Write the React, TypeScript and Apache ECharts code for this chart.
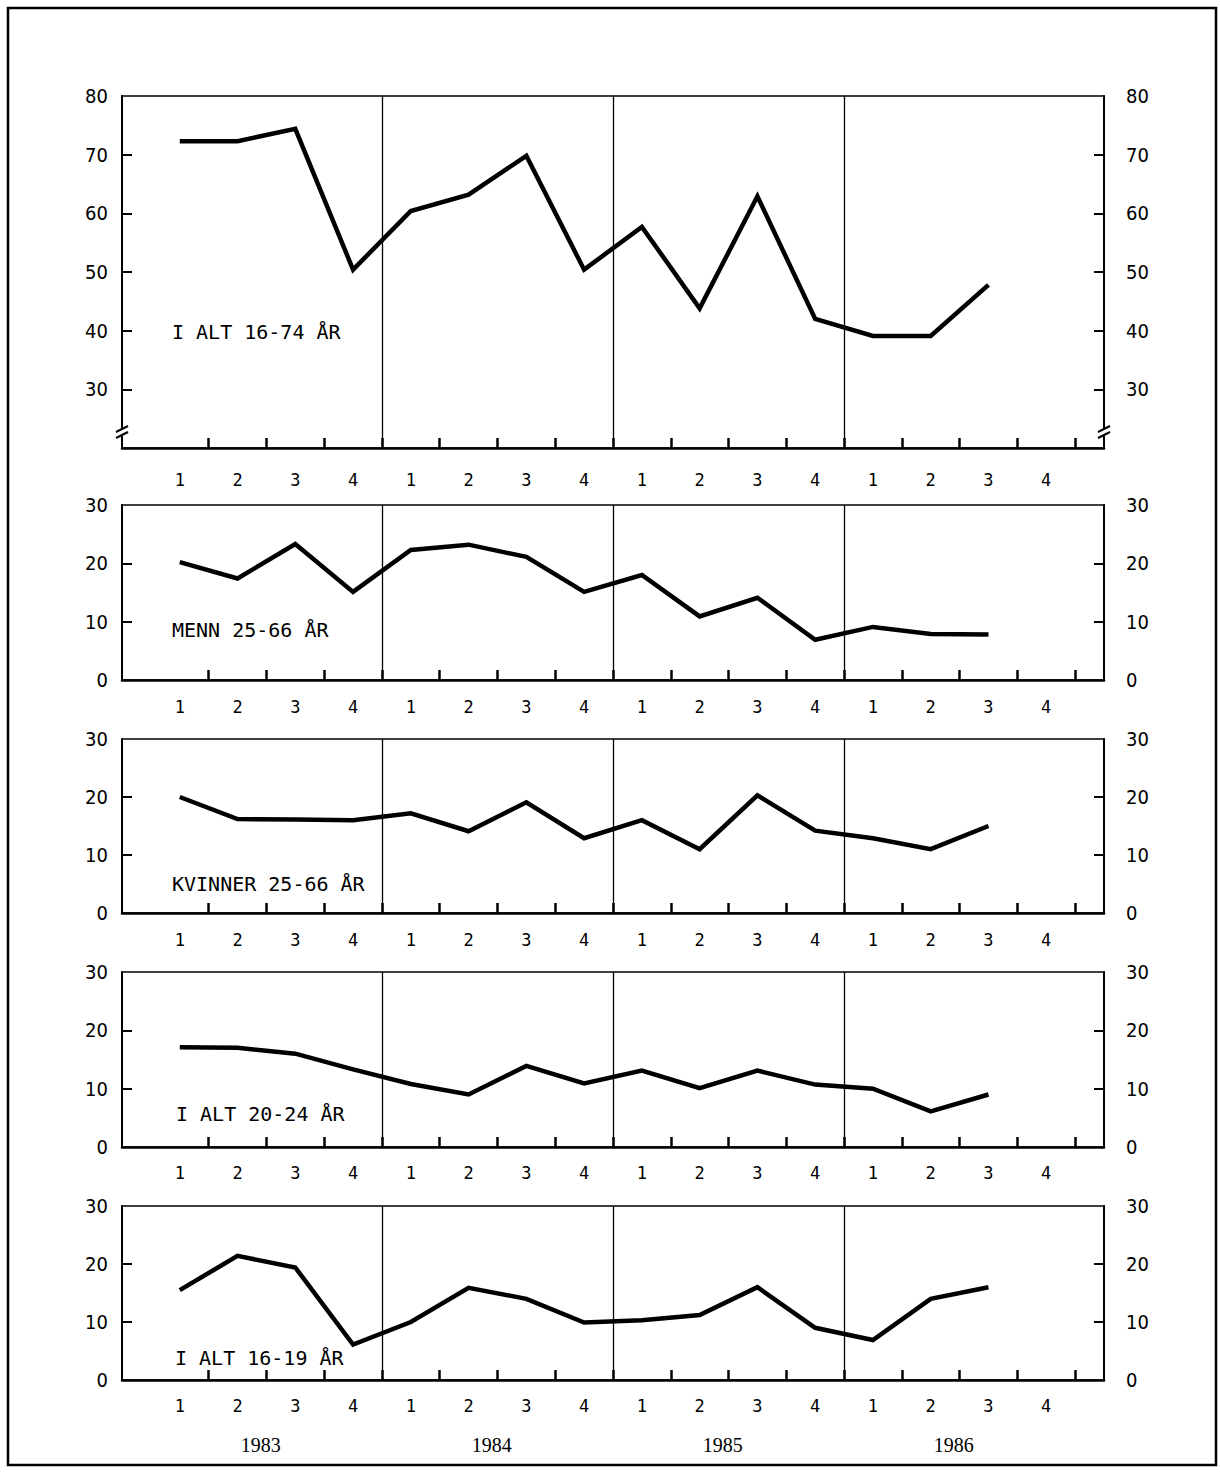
import React, { useEffect, useRef } from "react";
import * as echarts from "echarts";

// ---- Data ----
const years = ["1983", "1984", "1985", "1986"];
const quarters = ["1", "2", "3", "4"];

const panelTitles = [
  "I ALT 16-74 ÅR",
  "MENN 25-66 ÅR",
  "KVINNER 25-66 ÅR",
  "I ALT 20-24 ÅR",
  "I ALT 16-19 ÅR",
];

// quarterly values 1983 Q1 .. 1986 Q3
const total16to74 = [72.3, 72.3, 74.4, 50.4, 60.4, 63.2, 69.8, 50.4, 57.7, 43.8, 62.9, 42.0, 39.1, 39.1, 47.8];
const men25to66 = [20.2, 17.4, 23.3, 15.1, 22.3, 23.2, 21.1, 15.1, 18.0, 10.9, 14.1, 6.9, 9.1, 7.9, 7.8];
const women25to66 = [20.0, 16.2, 16.1, 16.0, 17.2, 14.1, 19.1, 12.9, 16.0, 11.0, 20.3, 14.2, 12.9, 11.0, 15.0];
const total20to24 = [17.1, 17.0, 16.0, 13.3, 10.8, 9.0, 13.9, 10.9, 13.1, 10.1, 13.1, 10.7, 10.0, 6.1, 9.0];
const total16to19 = [15.5, 21.4, 19.4, 6.1, 10.0, 15.9, 14.0, 9.9, 10.3, 11.2, 16.0, 9.0, 6.9, 14.0, 16.0];

const panelValues = [total16to74, men25to66, women25to66, total20to24, total16to19];

const yMins = [20, 0, 0, 0, 0];
const yMaxs = [80, 30, 30, 30, 30];
const topTickLabels = [30, 40, 50, 60, 70, 80];
const smallTickLabels = [0, 10, 20, 30];

// ---- Layout (styles only) ----
const W = 1220;
const H = 1474;
const GRID_LEFT = 122;
const GRID_WIDTH = 982;
const panelTops = [96, 505, 739, 972, 1206];
const panelHeights = [352, 175, 174, 175, 174];
const quarterMargins = [23, 18, 18, 17, 17];
const titleOffsets = [
  [172, 236],
  [172, 125],
  [172, 145],
  [176, 142],
  [175, 152],
];

const numFont = "'DejaVu Sans Condensed', 'Liberation Sans Narrow', 'Open Sans', sans-serif";
const monoFont = "'DejaVu Sans Mono', 'Liberation Mono', monospace";
const serifFont = "'Liberation Serif', 'DejaVu Serif', serif";

function buildOption() {
  const nSlots = years.length * quarters.length + 1; // 17 units wide
  const quarterPositions: number[] = [];
  years.forEach((_, yi) => quarters.forEach((_, qi) => quarterPositions.push(yi * quarters.length + qi + 1)));
  const tickPositions = quarterPositions.map((p) => p + 0.5);
  const dividerPositions = years.slice(1).map((_, yi) => (yi + 1) * quarters.length + 0.5);
  const yearPositions = years.map((_, yi) => yi * quarters.length + 2.4);

  const quarterLabel = (v: number) => {
    const idx = Math.round(v) - 1;
    return quarters[((idx % quarters.length) + quarters.length) % quarters.length];
  };

  const grid: any[] = [];
  const xAxis: any[] = [];
  const yAxis: any[] = [];
  const series: any[] = [];
  const graphic: any[] = [];

  panelValues.forEach((vals, i) => {
    grid.push({
      left: GRID_LEFT,
      width: GRID_WIDTH,
      top: panelTops[i],
      height: panelHeights[i],
      show: true,
      borderColor: "#000",
      borderWidth: 1.6,
      backgroundColor: "transparent",
    });
    const xi = xAxis.length;
    xAxis.push({
      type: "value",
      gridIndex: i,
      min: 0,
      max: nSlots,
      position: "bottom",
      axisLine: { show: true, onZero: false, lineStyle: { color: "#000", width: 2.5 } },
      axisTick: {
        show: true,
        inside: true,
        length: 10,
        customValues: tickPositions,
        lineStyle: { color: "#000", width: 2.5 },
      },
      axisLabel: {
        show: true,
        customValues: quarterPositions,
        formatter: (v: number) => quarterLabel(v),
        margin: quarterMargins[i],
        color: "#000",
        fontFamily: monoFont,
        fontSize: 17,
      },
      splitLine: { show: false },
    });
    const isTop = i === 0;
    const labelVals = isTop ? topTickLabels : smallTickLabels;
    const tickVals = labelVals.filter((v) => v > yMins[i] && v < yMaxs[i]);
    const yBase = (pos: "left" | "right", margin: number) => ({
      type: "value",
      gridIndex: i,
      min: yMins[i],
      max: yMaxs[i],
      interval: 10,
      position: pos,
      axisLine: { show: true, onZero: false, lineStyle: { color: "#000", width: 2 } },
      axisTick: {
        show: true,
        inside: true,
        length: 10,
        customValues: tickVals,
        lineStyle: { color: "#000", width: 2 },
      },
      axisLabel: {
        show: true,
        customValues: labelVals,
        margin,
        color: "#000",
        fontFamily: numFont,
        fontSize: 20,
      },
      splitLine: { show: false },
    });
    const yl = yAxis.length;
    yAxis.push(yBase("left", 14));
    yAxis.push(yBase("right", 22));

    series.push({
      type: "line",
      xAxisIndex: xi,
      yAxisIndex: yl,
      data: vals.map((v, k) => [quarterPositions[k], v]),
      symbol: "none",
      lineStyle: { color: "#000", width: 4.5, join: "miter", miterLimit: 10 },
      markLine: {
        silent: true,
        symbol: ["none", "none"],
        label: { show: false },
        lineStyle: { color: "#000", width: 1.3, type: "solid" },
        emphasis: { disabled: true },
        data: dividerPositions.map((x) => ({ xAxis: x })),
      },
      z: 3,
    });

    graphic.push({
      type: "text",
      x: titleOffsets[i][0],
      y: panelTops[i] + titleOffsets[i][1],
      z: 100,
      style: {
        text: panelTitles[i],
        fill: "#000",
        font: `20px ${monoFont}`,
        verticalAlign: "middle",
        align: "left",
      },
    });
  });

  // year labels under last panel
  xAxis.push({
    type: "value",
    gridIndex: panelValues.length - 1,
    min: 0,
    max: nSlots,
    position: "bottom",
    axisLine: { show: false, onZero: false },
    axisTick: { show: false },
    splitLine: { show: false },
    axisLabel: {
      show: true,
      customValues: yearPositions,
      formatter: (v: number) => years[Math.round((v - 2.4) / quarters.length)],
      margin: 55,
      color: "#000",
      fontFamily: serifFont,
      fontSize: 20,
    },
  });

  // axis break marks on top panel
  const bTop = panelTops[0] + panelHeights[0];
  [GRID_LEFT, GRID_LEFT + GRID_WIDTH].forEach((ax) => {
    graphic.push({
      type: "rect",
      z: 100,
      shape: { x: ax - 3, y: bTop - 19, width: 6, height: 7 },
      style: { fill: "#fff" },
    });
    graphic.push({
      type: "line",
      z: 101,
      shape: { x1: ax - 6, y1: bTop - 16, x2: ax + 6, y2: bTop - 22 },
      style: { stroke: "#000", lineWidth: 2 },
    });
    graphic.push({
      type: "line",
      z: 101,
      shape: { x1: ax - 6, y1: bTop - 10, x2: ax + 6, y2: bTop - 16 },
      style: { stroke: "#000", lineWidth: 2 },
    });
  });

  // outer frame
  graphic.push({
    type: "rect",
    z: 100,
    shape: { x: 8, y: 8, width: 1208, height: 1457 },
    style: { fill: "none", stroke: "#000", lineWidth: 2.5 },
  });

  return {
    animation: false,
    backgroundColor: "#fff",
    grid,
    xAxis,
    yAxis,
    series,
    graphic,
  };
}

export default function App() {
  const ref = useRef<HTMLDivElement>(null);
  useEffect(() => {
    if (!ref.current) return;
    const chart = echarts.init(ref.current, null, { renderer: "svg" });
    chart.setOption(buildOption() as any);
    return () => chart.dispose();
  }, []);
  return (
    <div
      ref={ref}
      style={{ position: "absolute", left: 0, top: 0, width: W, height: H, background: "#fff" }}
    />
  );
}
